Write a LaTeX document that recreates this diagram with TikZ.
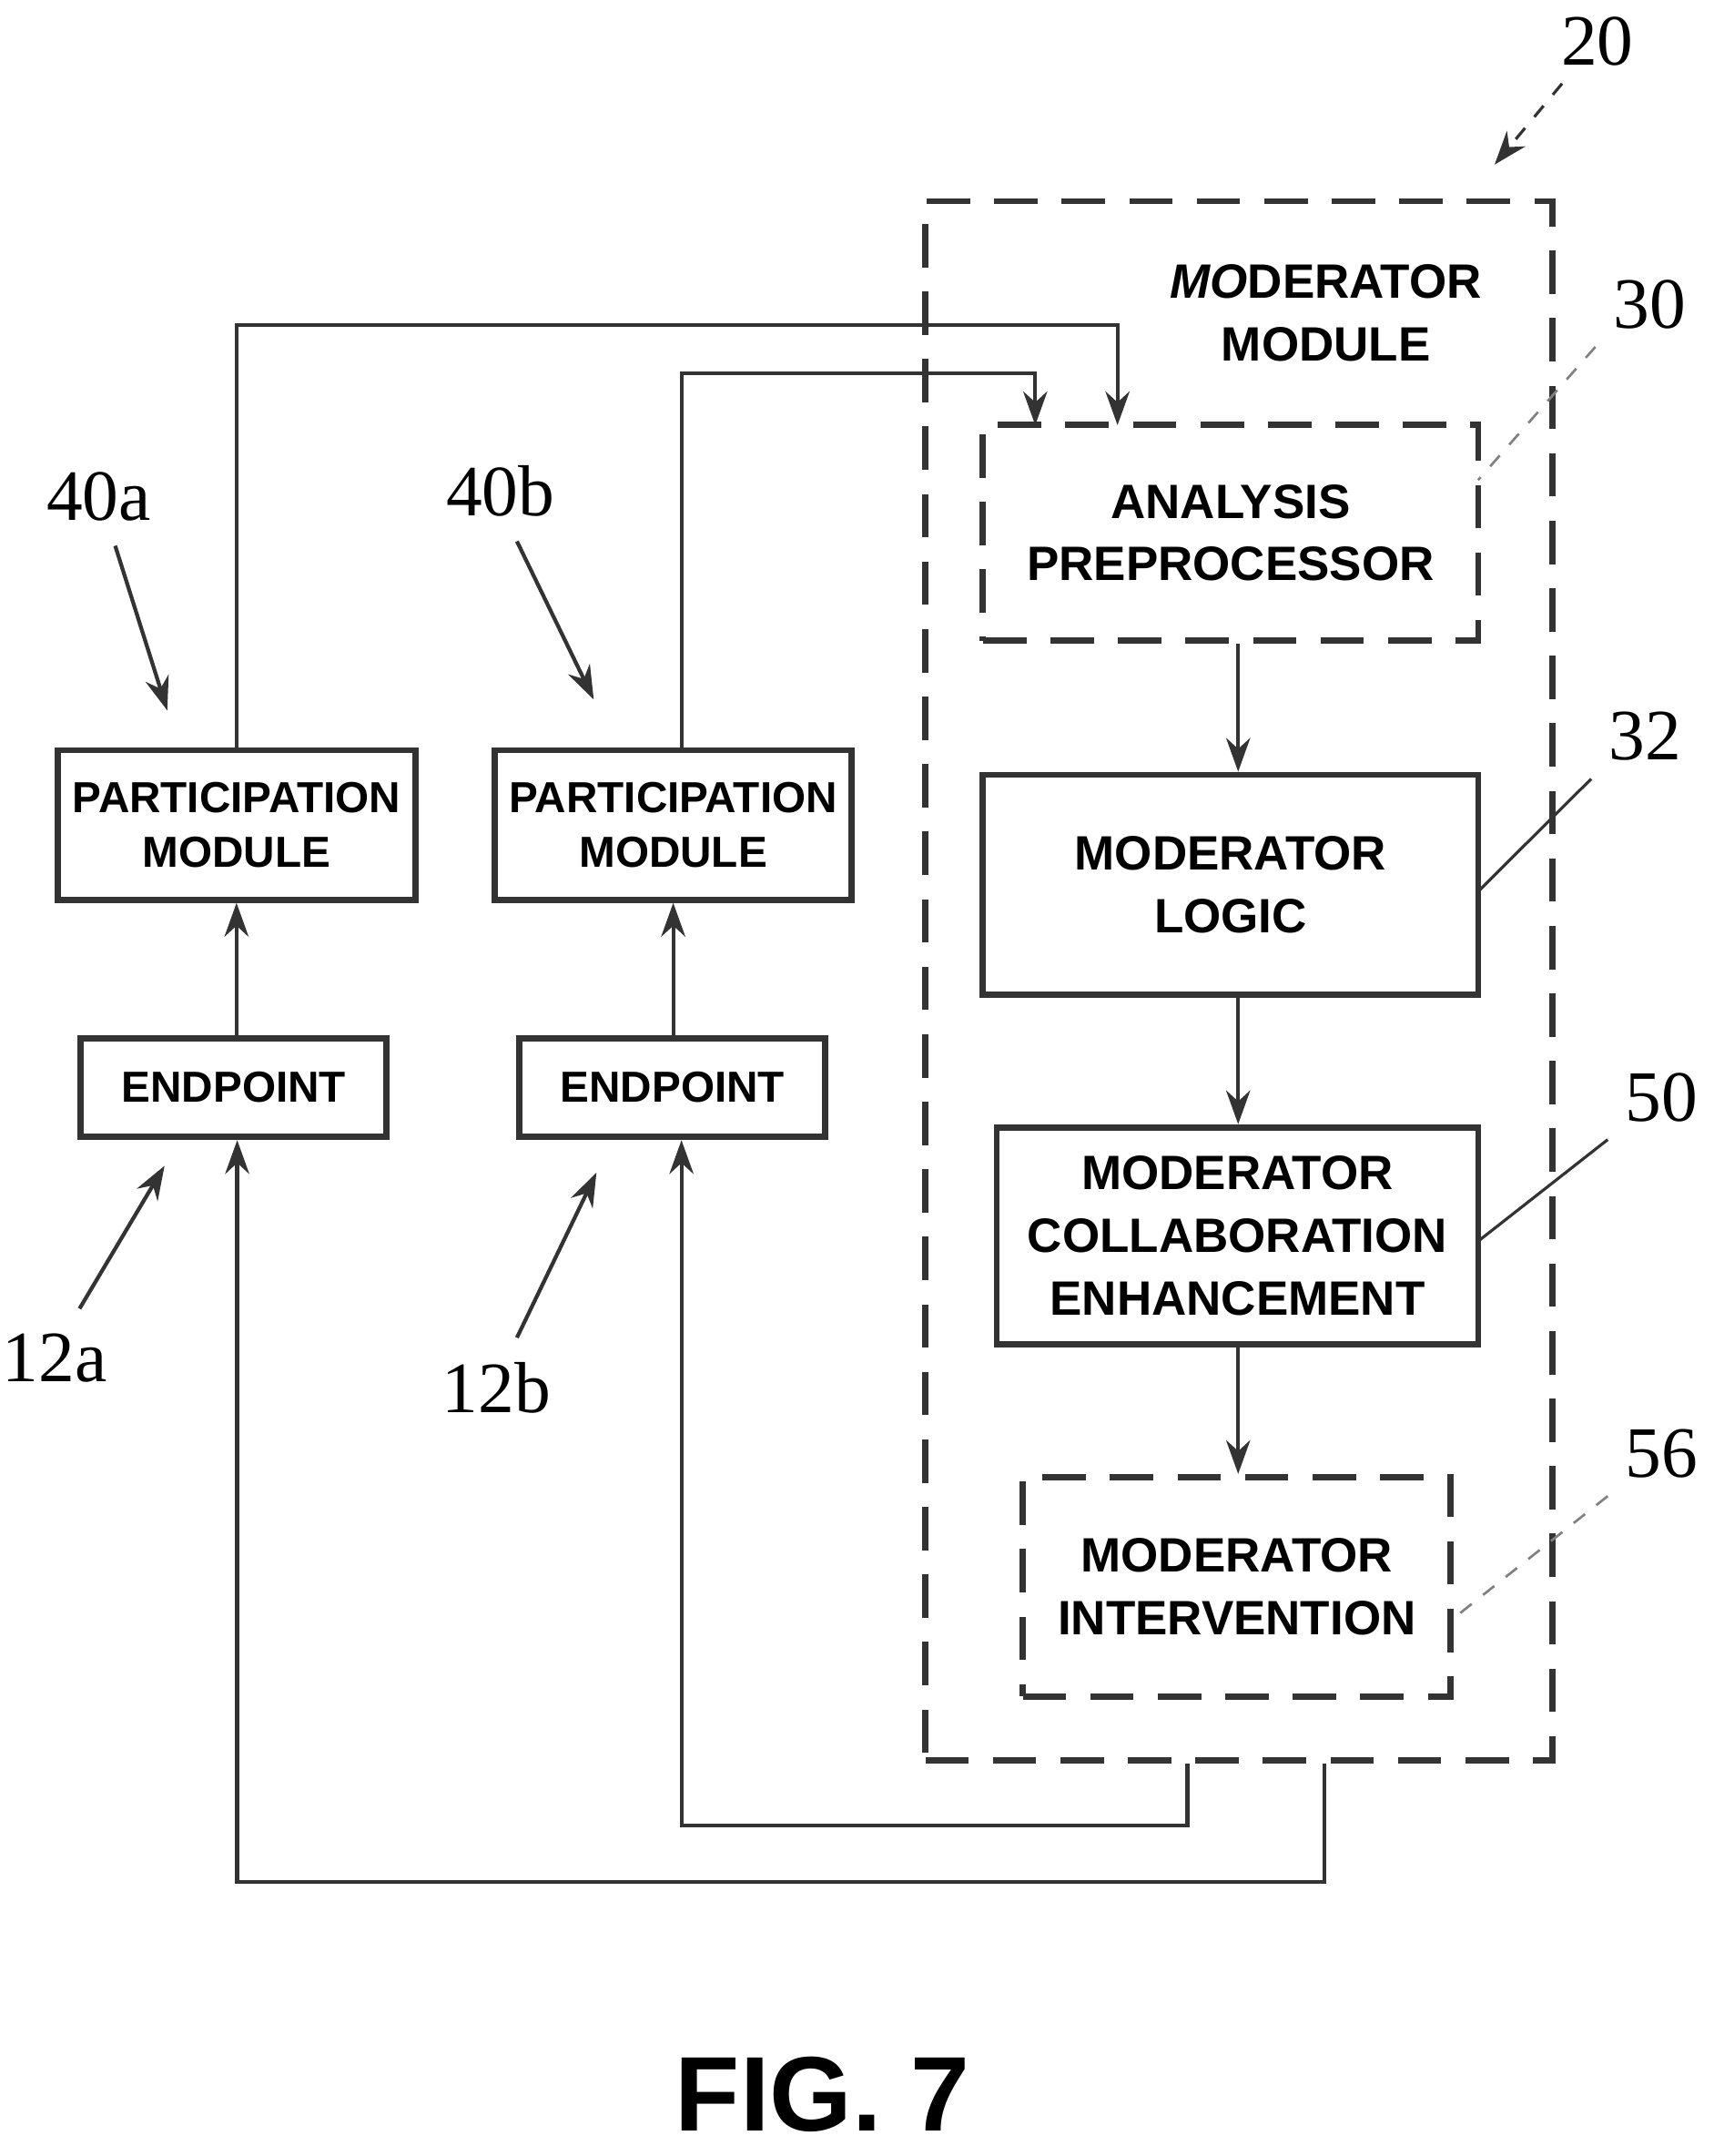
\documentclass[tikz,border=0pt]{standalone}
\usepackage{fontspec}
\setmainfont{Liberation Serif}
\setsansfont{Liberation Sans}
\usetikzlibrary{arrows.meta,positioning}

\begin{document}
\begin{tikzpicture}[x=0.01cm,y=-0.01cm,>={Stealth[length=7pt,width=5pt]},line width=0.8pt,draw={black!80}]
\tikzstyle{blk} = [draw,line width=1.3pt,align=center,font=\sffamily\bfseries\fontsize{10}{13}\selectfont,inner sep=0pt]
\tikzstyle{dsh} = [blk,dash pattern=on 9pt off 5pt]
\tikzstyle{sml} = [blk,font=\sffamily\bfseries\fontsize{9}{11.5}\selectfont]
\tikzstyle{num} = [font=\fontsize{15}{15}\selectfont]
    \useasboundingbox (0,0) rectangle (1250,1572);
    % moderator module
    \node[dsh,minimum width=4.57cm,minimum height=11.36cm] (mod) at (903.5,715) {};
    \node[font=\sffamily\bfseries\fontsize{10}{13}\selectfont,align=center] (modl) at (967,228) {\textit{MO}DERATOR\\MODULE};
    \node[dsh,minimum width=3.61cm,minimum height=1.57cm] (ap) at (897.5,388.5) {ANALYSIS\\PREPROCESSOR};
    \node[blk,minimum width=3.61cm,minimum height=1.60cm] (ml) at (897.5,645) {MODERATOR\\LOGIC};
    \node[blk,minimum width=3.51cm,minimum height=1.58cm] (mc) at (902.5,901) {MODERATOR\\COLLABORATION\\ENHANCEMENT};
    \node[dsh,minimum width=3.12cm,minimum height=1.60cm] (mi) at (902,1157) {MODERATOR\\INTERVENTION};
    % participants
    \node[sml,minimum width=2.61cm,minimum height=1.09cm] (pma) at (172.5,601.5) {PARTICIPATION\\MODULE};
    \node[sml,minimum width=2.60cm,minimum height=1.09cm] (pmb) at (491,601.5) {PARTICIPATION\\MODULE};
    \node[sml,minimum width=2.23cm,minimum height=0.72cm] (epa) at (170.5,793) {ENDPOINT};
    \node[sml,minimum width=2.23cm,minimum height=0.72cm] (epb) at (490.5,793) {ENDPOINT};

    \draw[->] (epa.north -| pma) -- (pma);
    \draw[->] (epb.north -| pmb) -- (pmb);
    \draw[->] (pma.north) |- (815,237) -- (815,310);
    \draw[->] (pmb.north -| 497,0) |- (755,272) -- (755,310);
    \draw[->] (ap.south -| 903,0) -- (ml.north -| 903,0);
    \draw[->] (ml.south -| 903,0) -- (mc.north -| 903,0);
    \draw[->] (mc.south -| 903,0) -- (mi.north -| 903,0);
    \draw[->] (mod.south -| 866,0) |- (497,1331) -- (epb.south -| 497,0);
    \draw[->] (mod.south -| 966,0) |- (173,1372) -- (epa.south -| 173,0);

    % reference labels
    \node[num] (n20) at (1165,30) {20};
    \node[num] (n30) at (1203,222) {30};
    \node[num] (n32) at (1200,537) {32};
    \node[num] (n50) at (1212,800) {50};
    \node[num] (n56) at (1212,1060) {56};
    \node[num] (n40a) at (72,362) {40a};
    \node[num] (n40b) at (365,358) {40b};
    \node[num] (n12a) at (40,990) {12a};
    \node[num] (n12b) at (362,1012) {12b};
    \draw[->,dashed,line width=0.6pt] (n20) -- (1090,120);
    \draw[dashed,line width=0.5pt,gray] (n30.south west) -- (1078,350);
    \draw[line width=0.6pt] (n32.south west) -- (1078,650);
    \draw[line width=0.6pt] (n50.south west) -- (1078,905);
    \draw[dashed,line width=0.5pt,gray] (n56.south west) -- (1060,1180);
    \draw[->] (n40a.south) ++(12,5) -- (122,518);
    \draw[->] (n40b.south) ++(12,5) -- (433,510);
    \draw[->] (n12a.north) ++(18,-5) -- (120,850);
    \draw[->] (n12b.north) ++(15,-5) -- (435,855);

    \node[font=\sffamily\bfseries\fontsize{22}{22}\selectfont] (fig) at (600,1527) {FIG. 7};
\end{tikzpicture}
\end{document}
